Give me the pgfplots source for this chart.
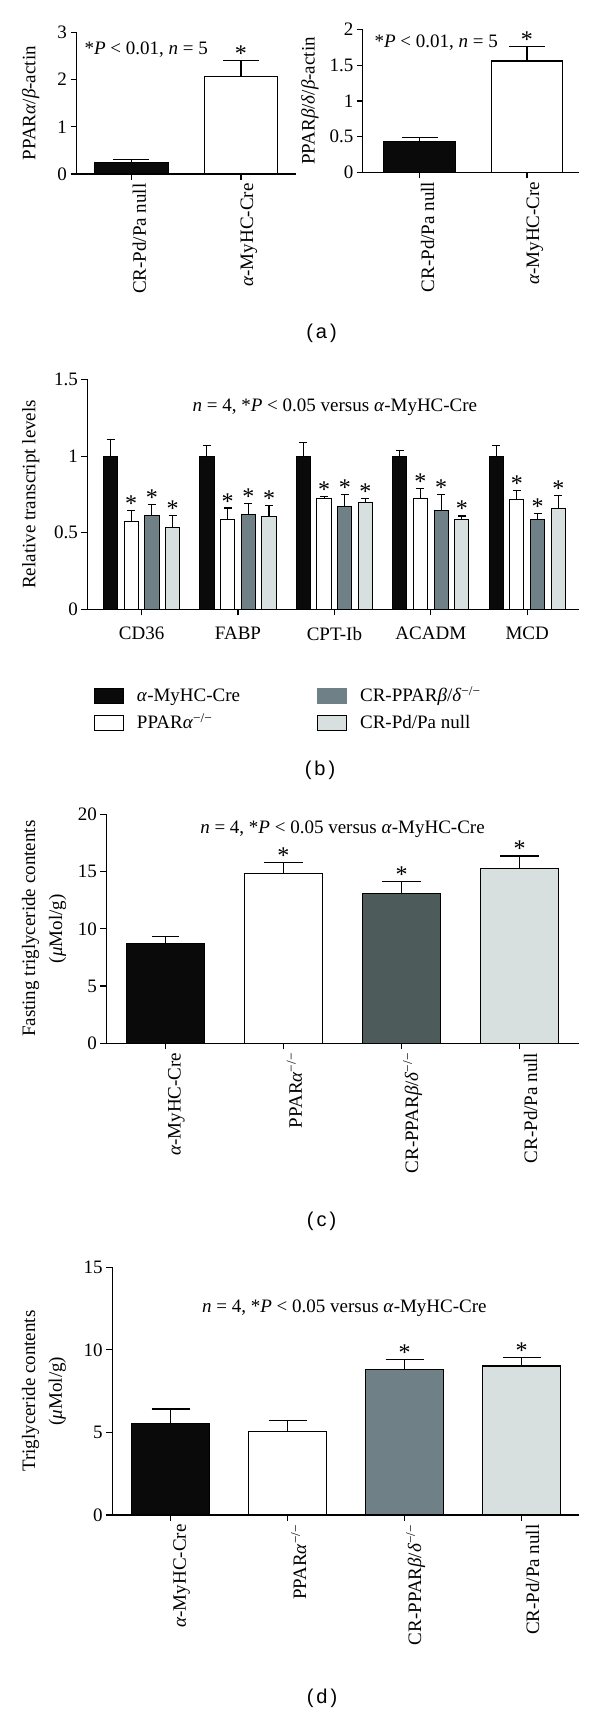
\documentclass[border=0pt]{standalone}
\usepackage{fontspec}
\setmainfont{Liberation Serif}
\newfontfamily\panelfont{Liberation Sans}
\usepackage{pgfplots}
\pgfplotsset{compat=1.18}

\definecolor{cblack}{HTML}{0A0A0A}
\definecolor{cgray}{HTML}{6F8086}
\definecolor{cdark}{HTML}{4D5B5B}
\definecolor{clight}{HTML}{D8DFDF}

\newcommand{\fs}{\fontsize{19}{22}\selectfont}
\newcommand{\pf}{\panelfont\fontsize{20}{22}\selectfont}

\tikzset{astnode/.style={anchor=base, yshift=-1pt, font=\fontsize{24}{26}\selectfont}}

\pgfplotsset{
  mybase/.style={
    scale only axis,
    axis x line*=bottom, axis y line*=left,
    axis line style={-, line width=1.1pt, black},
    tick style={line width=1.1pt, black},
    tick align=outside,
    major tick length=6pt,
    ymin=0,
    /pgf/number format/assume math mode=true,
    tick label style={font=\fs},
    label style={font=\fs},
    clip=false,
  },
  bar/.style={ybar, bar shift=0pt, draw=black, line width=1.1pt},
  bar2/.style={ybar, bar shift=0pt, bar width=14.2pt, draw=black, line width=1pt, forget plot},
  eb/.style={error bars/y dir=plus, error bars/y explicit,
    error bars/error bar style={line width=1.1pt, black},
    error bars/error mark options={rotate=90, line width=1.1pt, black, mark size=#1}},
}

\begin{document}
\begin{tikzpicture}[font=\fs]
\useasboundingbox (0pt,0pt) rectangle (600pt,1720pt);

% ---------- (a) left ----------
\begin{axis}[mybase, at={(76.5pt,1546pt)}, anchor=south west,
  width=219.3pt, height=141.7pt,
  xmin=-0.5, xmax=1.5, ymax=3, ytick={0,1,2,3},
  xtick={0,1}, xticklabels={CR-Pd/Pa null,\textit{α}-MyHC-Cre},
  xticklabel style={rotate=90, anchor=east, yshift=-8pt},
  ylabel={PPAR\textit{α}/\textit{β}-actin},
  ylabel style={at={(axis description cs:-0.209,0.5)}, anchor=center}]
\addplot[bar, bar width=0.67, fill=cblack, eb=18pt] coordinates {(0,0.25) +- (0,0.06)};
\addplot[bar, bar width=0.67, fill=white, eb=18pt] coordinates {(1,2.06) +- (0,0.35)};
\node[anchor=west] at (rel axis cs:0.0205,0.877) {*\textit{P} < 0.01, \textit{n} = 5};
\node[astnode] at (axis cs:1,2.41) {*};
\end{axis}

% ---------- (a) right ----------
\begin{axis}[mybase, at={(362.8pt,1547.7pt)}, anchor=south west,
  width=216.2pt, height=142.6pt,
  xmin=-0.53, xmax=1.485, ymax=2, ytick={0,0.5,1,1.5,2},
  xtick={0,1}, xticklabels={CR-Pd/Pa null,\textit{α}-MyHC-Cre},
  xticklabel style={rotate=90, anchor=east, yshift=-8pt},
  ylabel={PPAR\textit{β}/\textit{δ}/\textit{β}-actin},
  ylabel style={at={(axis description cs:-0.244,0.5)}, anchor=center}]
\addplot[bar, bar width=0.668, fill=cblack, eb=18pt] coordinates {(0,0.43) +- (0,0.056)};
\addplot[bar, bar width=0.668, fill=white, eb=18pt] coordinates {(1,1.56) +- (0,0.20)};
\node[anchor=west] at (rel axis cs:0.038,0.909) {*\textit{P} < 0.01, \textit{n} = 5};
\node[astnode] at (axis cs:1,1.76) {*};
\end{axis}

\node[font=\pf] at (321.5pt,1387pt) {(\hspace{3pt}a\hspace{3pt})};

% ---------- (b) ----------
\begin{axis}[mybase, at={(87.3pt,1110.7pt)}, anchor=south west,
  width=491.7pt, height=229.8pt,
  xmin=-0.563, xmax=4.537, ymax=1.5, ytick={0,0.5,1,1.5},
  xtick={0,1,2,3,4}, xticklabels={CD36,FABP,CPT-Ib,ACADM,MCD},
  xticklabel style={yshift=-8pt},
  ylabel={Relative transcript levels},
  ylabel style={at={(axis description cs:-0.115,0.5)}, anchor=center},
  legend image code/.code={\draw[#1] (0pt,-7.5pt) rectangle (29pt,7.5pt);},
  legend columns=2,
  legend cell align=left,
  legend style={at={(rel axis cs:0.0136,-0.338)}, anchor=north west,
    draw=none, fill=none, inner sep=0pt, outer sep=0pt, font=\fs,
    row sep=8.7pt,
    /tikz/every odd column/.append style={column sep=13pt},
    /tikz/every even column/.append style={column sep=77pt},
    nodes={inner sep=0pt, text height=15pt, text depth=3pt}},
]
% alpha-MyHC-Cre
\addplot[bar2, fill=cblack, eb=4pt] coordinates {
  (-0.322,1.0) +- (0,0.109) (0.678,1.0) +- (0,0.067) (1.678,1.0) +- (0,0.089) (2.678,1.0) +- (0,0.037) (3.678,1.0) +- (0,0.067)};
% PPARalpha-/-
\addplot[bar2, fill=white, eb=4pt] coordinates {
  (-0.1074,0.572) +- (0,0.074) (0.8926,0.587) +- (0,0.074) (1.8926,0.720) +- (0,0.015) (2.8926,0.726) +- (0,0.065) (3.8926,0.717) +- (0,0.061)};
% CR-PPARbeta/delta-/-
\addplot[bar2, fill=cgray, eb=4pt] coordinates {
  (0.1074,0.615) +- (0,0.070) (1.1074,0.620) +- (0,0.071) (2.1074,0.670) +- (0,0.080) (3.1074,0.648) +- (0,0.100) (4.1074,0.587) +- (0,0.039)};
% CR-Pd/Pa null
\addplot[bar2, fill=clight, eb=4pt] coordinates {
  (0.322,0.535) +- (0,0.078) (1.322,0.604) +- (0,0.076) (2.322,0.698) +- (0,0.028) (3.322,0.585) +- (0,0.024) (4.322,0.657) +- (0,0.086)};
\addlegendimage{fill=cblack, draw=black, line width=1pt}
\addlegendentry{\textit{α}-MyHC-Cre}
\addlegendimage{fill=cgray, draw=cgray, line width=1pt}
\addlegendentry{CR-PPAR\textit{β}/\textit{δ}\textsuperscript{−/−}}
\addlegendimage{fill=white, draw=black, line width=1pt}
\addlegendentry{PPAR\textit{α}\textsuperscript{−/−}}
\addlegendimage{fill=clight, draw=black, line width=1pt}
\addlegendentry{CR-Pd/Pa null}
% stars
\node[astnode] at (axis cs:-0.1074,0.646) {*};
\node[astnode] at (axis cs:0.1074,0.685) {*};
\node[astnode] at (axis cs:0.322,0.613) {*};
\node[astnode] at (axis cs:0.8926,0.661) {*};
\node[astnode] at (axis cs:1.1074,0.691) {*};
\node[astnode] at (axis cs:1.322,0.680) {*};
\node[astnode] at (axis cs:1.8926,0.735) {*};
\node[astnode] at (axis cs:2.1074,0.750) {*};
\node[astnode] at (axis cs:2.322,0.726) {*};
\node[astnode] at (axis cs:2.8926,0.791) {*};
\node[astnode] at (axis cs:3.1074,0.748) {*};
\node[astnode] at (axis cs:3.322,0.609) {*};
\node[astnode] at (axis cs:3.8926,0.778) {*};
\node[astnode] at (axis cs:4.1074,0.626) {*};
\node[astnode] at (axis cs:4.322,0.743) {*};
\node at (rel axis cs:0.5036,0.88) {\textit{n} = 4, *\textit{P} < 0.05 versus \textit{α}-MyHC-Cre};
\end{axis}

\node[font=\pf] at (320pt,950pt) {(\hspace{3pt}b\hspace{3pt})};

% ---------- (c) ----------
\begin{axis}[mybase, at={(106.4pt,676.7pt)}, anchor=south west,
  width=472.2pt, height=229pt,
  xmin=-0.5, xmax=3.5, ymax=20, ytick={0,5,10,15,20},
  xtick={0,1,2,3},
  xticklabels={\textit{α}-MyHC-Cre,PPAR\textit{α}\textsuperscript{−/−},CR-PPAR\textit{β}/\textit{δ}\textsuperscript{−/−},CR-Pd/Pa null},
  xticklabel style={rotate=90, anchor=east, yshift=-11pt},
  ylabel={Fasting triglyceride contents\\(\textit{μ}Mol/g)},
  ylabel style={align=center, font=\fontsize{19}{26.8}\selectfont, at={(axis description cs:-0.132,0.5)}, anchor=center}]
\addplot[bar, bar width=0.663, fill=cblack, eb=13.4pt] coordinates {(0,8.73) +- (0,0.56)};
\addplot[bar, bar width=0.663, fill=white, eb=19.5pt] coordinates {(1,14.82) +- (0,0.96)};
\addplot[bar, bar width=0.663, fill=cdark, eb=19.5pt] coordinates {(2,13.07) +- (0,1.05)};
\addplot[bar, bar width=0.663, fill=clight, eb=19.5pt] coordinates {(3,15.28) +- (0,1.08)};
\node[astnode] at (axis cs:1,15.78) {*};
\node[astnode] at (axis cs:2,14.12) {*};
\node[astnode] at (axis cs:3,16.36) {*};
\node at (rel axis cs:0.5,0.934) {\textit{n} = 4, *\textit{P} < 0.05 versus \textit{α}-MyHC-Cre};
\end{axis}

\node[font=\pf] at (321.5pt,498.3pt) {(\hspace{3pt}c\hspace{3pt})};

% ---------- (d) ----------
\begin{axis}[mybase, at={(112.1pt,205pt)}, anchor=south west,
  width=466.9pt, height=247.7pt,
  xmin=-0.5, xmax=3.49, ymax=15, ytick={0,5,10,15},
  xtick={0,1,2,3},
  xticklabels={\textit{α}-MyHC-Cre,PPAR\textit{α}\textsuperscript{−/−},CR-PPAR\textit{β}/\textit{δ}\textsuperscript{−/−},CR-Pd/Pa null},
  xticklabel style={rotate=90, anchor=east, yshift=-11pt},
  ylabel={Triglyceride contents\\(\textit{μ}Mol/g)},
  ylabel style={align=center, font=\fontsize{19}{26.8}\selectfont, at={(axis description cs:-0.146,0.5)}, anchor=center}]
\addplot[bar, bar width=0.664, fill=cblack, eb=19pt] coordinates {(0,5.55) +- (0,0.87)};
\addplot[bar, bar width=0.664, fill=white, eb=19pt] coordinates {(1,5.03) +- (0,0.70)};
\addplot[bar, bar width=0.664, fill=cgray, eb=19pt] coordinates {(2,8.82) +- (0,0.57)};
\addplot[bar, bar width=0.664, fill=clight, eb=19pt] coordinates {(3,9.02) +- (0,0.51)};
\node[astnode] at (axis cs:2,9.39) {*};
\node[astnode] at (axis cs:3,9.53) {*};
\node at (rel axis cs:0.4975,0.834) {\textit{n} = 4, *\textit{P} < 0.05 versus \textit{α}-MyHC-Cre};
\end{axis}

\node[font=\pf] at (322pt,22pt) {(\hspace{3pt}d\hspace{3pt})};
\end{tikzpicture}
\end{document}
